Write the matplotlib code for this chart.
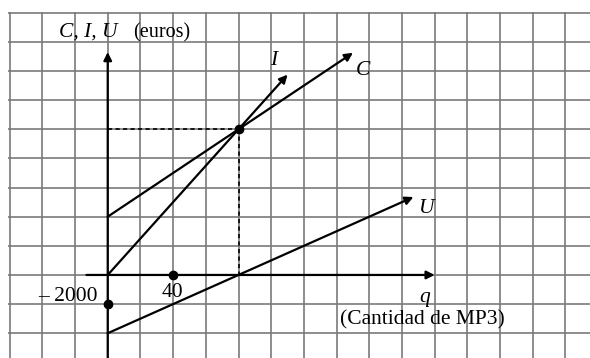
import numpy as np
import matplotlib.pyplot as plt

# break-even chart: q in units of MP3, euros on the vertical axis
q_end = {'C': 150, 'I': 110, 'U': 187}
fixed_cost = 4000
unit_cost = 75
price = 125
q_marks = [40]
e_marks = [-2000]
q_break = 80
e_break = 10000

serif = 'Liberation Serif'
fs = 15.5

fig = plt.figure(figsize=(5.9, 3.58), dpi=100)
ax = fig.add_axes([8 / 590, 0, 1 - 8 / 590, 1 - 12 / 358])

# grid paper
ax.set_xlim(-61, 295)
ax.set_ylim(-5700, 18050)
ax.set_xticks(np.arange(-60, 300, 20))
ax.set_yticks(np.arange(-4000, 20000, 2000))
ax.grid(True, color='#7a7a7a', lw=1.2)
ax.tick_params(length=0, labelbottom=False, labelleft=False)
for s in ax.spines.values():
    s.set_visible(False)

arrow = dict(arrowstyle='-|>', lw=1.6, color='black', mutation_scale=12, shrinkA=0, shrinkB=0)

# axes
ax.annotate('', xy=(0, 15300), xytext=(0, -5700), arrowprops=arrow)
ax.annotate('', xy=(200, 0), xytext=(-13, 0), arrowprops=arrow)

# C = fixed + unit cost * q, I = price * q, U = I - C
qc = q_end['C']
ax.annotate('', xy=(qc, fixed_cost + unit_cost * qc), xytext=(0, fixed_cost), arrowprops=arrow)
qi = q_end['I']
ax.annotate('', xy=(qi, price * qi), xytext=(0, 0), arrowprops=arrow)
qu = q_end['U']
ax.annotate('', xy=(qu, (price - unit_cost) * qu - fixed_cost), xytext=(0, -fixed_cost),
            arrowprops=arrow)

# break-even guides
ax.plot([0, q_break], [e_break, e_break], ls=(0, (2.5, 2)), color='black', lw=1.2)
ax.plot([q_break, q_break], [e_break, 0], ls=(0, (2.5, 2)), color='black', lw=1.2)
ax.plot([q_break], [e_break], 'o', color='black', ms=6)
ax.plot(q_marks, [0] * len(q_marks), 'o', color='black', ms=6)
ax.plot([0] * len(e_marks), e_marks, 'o', color='black', ms=6)

# labels
ax.text(-29.5, 16640, 'C, I, U', fontsize=fs, family=serif, style='italic', va='center')
ax.text(15.4, 16640, '(euros)', fontsize=fs - 1, family=serif, va='center')
ax.text(-6, -1500, '– 2000', fontsize=fs, family=serif, ha='right', va='center')
ax.text(39.4, -1230, '40', fontsize=fs, family=serif, ha='center', va='center')
ax.text(101.5, 14700, 'I', fontsize=fs, family=serif, style='italic', ha='center', va='center')
ax.text(152, 14040, 'C', fontsize=fs, family=serif, style='italic', ha='left', va='center')
ax.text(190, 4590, 'U', fontsize=fs, family=serif, style='italic', ha='left', va='center')
ax.text(193.8, -1575, 'q', fontsize=fs, family=serif, style='italic', ha='center', va='center')
ax.text(192.6, -3080, '(Cantidad de MP3)', fontsize=fs, family=serif, ha='center', va='center')

fig.savefig('out.png', dpi=100)
